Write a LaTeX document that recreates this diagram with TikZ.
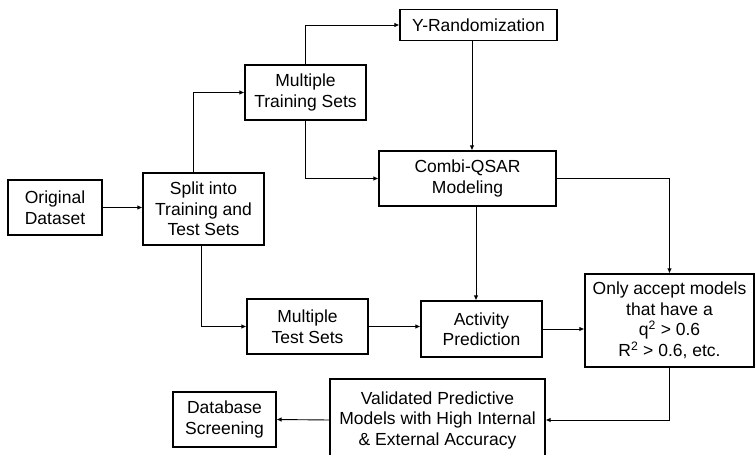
\documentclass[tikz,border=0pt]{standalone}
\usepackage{fontspec}
\setmainfont{Liberation Sans}
\usetikzlibrary{arrows.meta}

\begin{document}
\begin{tikzpicture}[
    x=1pt,y=-1pt,
    >={Latex[length=5pt,width=4.5pt]},
    box/.style={
        draw=black,
        line width=1.1pt,
        fill=white,
        inner sep=0pt,
        font=\fontsize{17.5}{20.5}\selectfont,
        align=center
    },
    arr/.style={->, line width=0.9pt, draw=black}
]
    \useasboundingbox (0,0) rectangle (756,455);

    % left column
    \node[box, minimum width=94pt, minimum height=55pt] (orig) at (55,207.5) {Original\\ Dataset};
    \node[box, minimum width=121pt, minimum height=72pt] (split) at (203.5,209) {Split into\\ Training and\\ Test Sets};

    \draw[arr] (orig.east) -- (orig.east -| split.west);

    % training branch
    \node[box, minimum width=121pt, minimum height=55pt] (mtrain) at (305.5,92.5) {Multiple\\ Training Sets};
    \node[box, minimum width=157pt, minimum height=31pt] (yrand) at (478.5,25) {Y-Randomization};
    \node[box, minimum width=177pt, minimum height=55pt] (combi) at (467.5,178.5) {Combi-QSAR\\ Modeling};

    \draw[arr] ([xshift=-10.5pt]split.north) |- (mtrain.west);
    \draw[arr] (mtrain.north) |- (yrand.west);
    \draw[arr] (mtrain.south) |- (combi.west);
    \draw[arr] ([xshift=-6.5pt]yrand.south) -- ([xshift=-6.5pt]yrand.south |- combi.north);

    % test branch
    \node[box, minimum width=121pt, minimum height=55pt] (mtest) at (307.5,326.5) {Multiple\\ Test Sets};
    \node[box, minimum width=121pt, minimum height=56pt] (act) at (481.5,329) {Activity\\ Prediction};

    \draw[arr] ([xshift=-2.5pt]split.south) |- (mtest.west);
    \draw[arr] (mtest.east) -- (mtest.east -| act.west);
    \draw[arr] ([xshift=8.5pt]combi.south) -- ([xshift=8.5pt]combi.south |- act.north);

    % acceptance
    \node[box, minimum width=169pt, minimum height=93pt] (accept) at (669.5,320.5) {Only accept models\\ that have a\\ q\textsuperscript{2} > 0.6\\ R\textsuperscript{2} > 0.6, etc.};

    \draw[arr, line width=1.4pt] (combi.east) -| (accept.north);
    \draw[arr] (act.east) -- (act.east -| accept.west);

    % results
    \node[box, minimum width=215pt, minimum height=82pt] (valid) at (437.5,420) {Validated Predictive\\ Models with High Internal\\ \& External Accuracy};
    \node[box, minimum width=103pt, minimum height=55pt] (db) at (224.5,419.5) {Database\\ Screening};

    \draw[arr] (accept.south) |- (valid.east);
    \draw[arr] (valid.west) -- (db.east);

\end{tikzpicture}
\end{document}
